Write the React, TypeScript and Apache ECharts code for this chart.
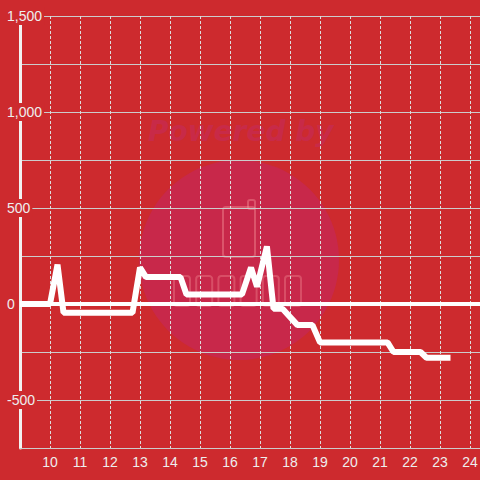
import React, { useEffect, useRef } from "react";
import * as echarts from "echarts";

const xValues = [9, 10, 10.25, 10.45, 12.75, 13.0, 13.2, 14.35, 14.55, 16.4, 16.7, 16.9, 17.23, 17.45, 17.75, 18.25, 18.75, 19.0, 21.25, 21.45, 22.35, 22.55, 23.35];
const yValues = [0, 0, 205, -45, -45, 190, 140, 140, 50, 50, 190, 90, 300, -25, -25, -110, -110, -200, -200, -250, -250, -280, -280];
const xTickLabels = ["10", "11", "12", "13", "14", "15", "16", "17", "18", "19", "20", "21", "22", "23", "24"];
const yTickLabels = [1500, 1000, 500, 0, -500];

const BG = "#cd2a2e";
const FONT = "'Liberation Sans', Arial, sans-serif";

export default function App() {
  const ref = useRef<HTMLDivElement>(null);
  useEffect(() => {
    if (!ref.current) return;
    const chart = echarts.init(ref.current, null, { renderer: "svg" });
    const fmtY = (v: number) =>
      yTickLabels.includes(v) ? "{a|" + v.toLocaleString("en-US") + "}" : "";
    const yCommon = {
      type: "value" as const,
      min: -750,
      max: 1500,
      interval: 250,
      position: "left" as const,
      offset: 0,
    };
    chart.setOption({
      animation: false,
      backgroundColor: BG,
      textStyle: { fontFamily: FONT },
      grid: { left: 20, right: -20, top: 16, bottom: 32, outerBoundsMode: "none", containLabel: false },
      graphic: [
        {
          type: "circle",
          z: -10,
          shape: { cx: 239, cy: 260, r: 100 },
          style: { fill: "#c8284a" },
          silent: true,
        },
        {
          type: "text",
          z: -10,
          x: 148,
          y: 117,
          style: {
            text: "Powered by",
            font: "italic bold 28px 'DejaVu Sans'",
            fill: "#c82a48",
            textVerticalAlign: "top",
          },
          silent: true,
        },
        {
          type: "rect",
          z: -9,
          shape: { x: 223, y: 207, width: 32, height: 50, r: 3 },
          style: { fill: "none", stroke: "rgba(255,170,170,0.35)", lineWidth: 2 },
          silent: true,
        },
        {
          type: "rect",
          z: -9,
          shape: { x: 248, y: 200, width: 7, height: 9, r: 2 },
          style: { fill: "none", stroke: "rgba(255,170,170,0.35)", lineWidth: 2 },
          silent: true,
        },
        ...[0, 1, 2, 3, 4, 5].map((i) => ({
          type: "rect",
          z: -9,
          shape: { x: 174 + i * 22.2, y: 276, width: 16, height: 30, r: 3 },
          style: { fill: "none", stroke: "rgba(255,170,170,0.3)", lineWidth: 2 },
          silent: true,
        })),
      ],
      xAxis: {
        type: "value",
        min: 9,
        max: 25,
        interval: 1,
        axisLine: { show: true, onZero: false, lineStyle: { color: "#cccccc", width: 1 } },
        axisTick: { show: false },
        axisLabel: {
          showMinLabel: false,
          margin: 7,
          fontSize: 14,
          color: "#eeeeee",
          fontFamily: FONT,
          formatter: (v: number) => (xTickLabels.includes(String(v)) ? String(v) : ""),
        },
        splitLine: { show: true, lineStyle: { color: "#dddddd", width: 1, type: [3, 2] } },
      },
      yAxis: [
        {
          ...yCommon,
          z: 0,
          axisLine: { show: true, lineStyle: { color: "#f2f2f2", width: 3 } },
          axisTick: { show: false },
          axisLabel: { show: false },
          splitLine: { show: true, lineStyle: { color: "#cccccc", width: 1 } },
        },
        {
          ...yCommon,
          z: 5,
          axisLine: { show: false },
          axisTick: { show: false },
          splitLine: { show: false },
          axisLabel: {
            show: true,
            align: "left",
            margin: 15,
            formatter: fmtY,
            rich: {
              a: {
                fontSize: 14,
                fontFamily: FONT,
                color: "#eeeeee",
                backgroundColor: BG,
                padding: [2, 2, 2, 2],
              },
            },
          },
        },
      ],
      series: [
        {
          type: "line",
          yAxisIndex: 0,
          data: xValues.map((x, i) => [x, yValues[i]]),
          symbol: "none",
          lineStyle: { color: "#ffffff", width: 6 },
          markLine: {
            silent: true,
            symbol: ["none", "none"],
            label: { show: false },
            lineStyle: { color: "#ffffff", width: 4, type: "solid" },
            data: [{ yAxis: 0 }],
          },
        },
      ],
    });
    return () => chart.dispose();
  }, []);
  return <div ref={ref} style={{ width: 480, height: 480, position: "absolute", left: 0, top: 0 }} />;
}
